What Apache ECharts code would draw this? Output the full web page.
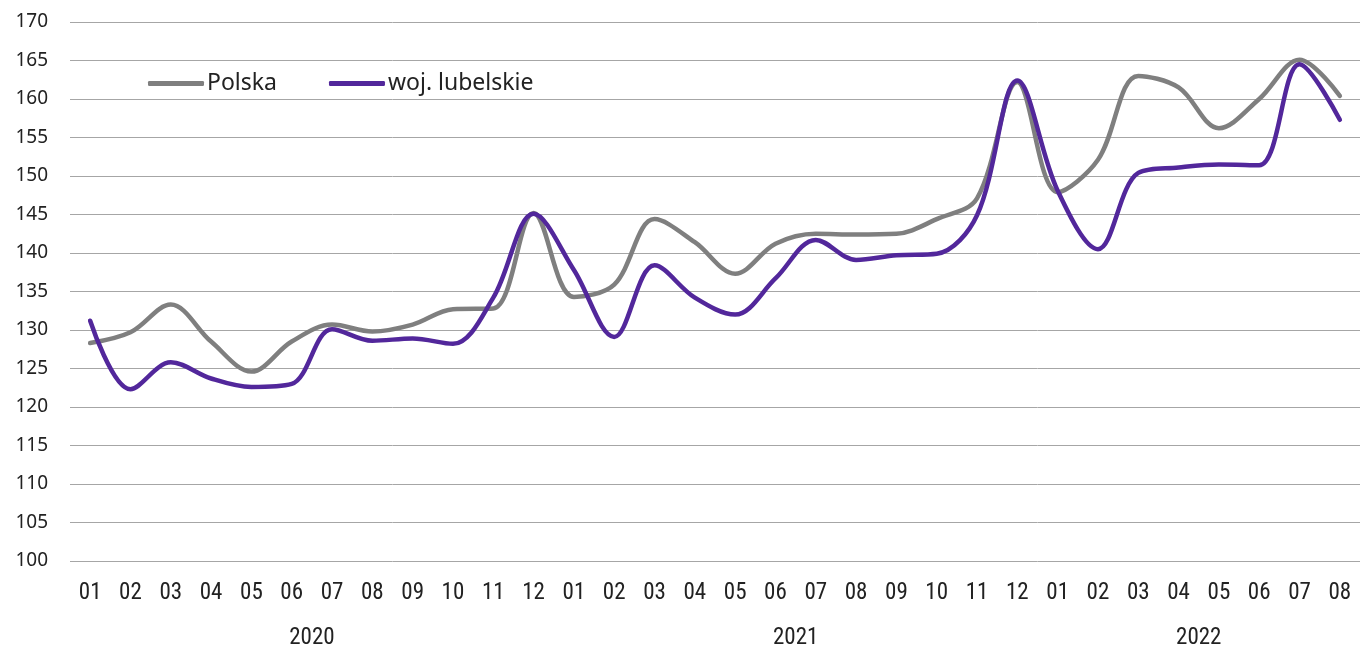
<!doctype html>
<html>
<head>
    <meta charset="utf-8">
    <title>Polska / woj. lubelskie</title>
    <style>
        html, body { margin: 0; padding: 0; background: #fff; }
        #main { width: 1363px; height: 650px; }
    </style>
</head>
<body>
    <div id="main"></div>
<script src="https://cdn.jsdelivr.net/npm/echarts@6/dist/echarts.min.js"></script>
<script type="text/javascript">
    // miesiace 2020-01 .. 2022-08
    var months = ['01','02','03','04','05','06','07','08','09','10','11','12',
                  '01','02','03','04','05','06','07','08','09','10','11','12',
                  '01','02','03','04','05','06','07','08'];
    var years = ['2020', '2021', '2022'];
    var yearPos = [5.5, 17.5, 27.5];

    var polska = [128.3, 129.7, 133.3, 128.5, 124.6, 128.5, 130.7, 129.8, 130.7, 132.7, 132.8, 145.2,
                  134.3, 135.9, 144.4, 141.4, 137.3, 141.2, 142.5, 142.4, 142.5, 144.4, 147.1, 162.2,
                  147.9, 152.1, 163.0, 161.5, 156.2, 160.0, 165.1, 160.4];
    var lubelskie = [131.2, 122.3, 125.8, 123.7, 122.6, 123.0, 130.1, 128.6, 128.9, 128.2, 134.2, 145.1,
                     137.8, 129.1, 138.4, 134.2, 132.0, 136.7, 141.7, 139.1, 139.7, 139.9, 144.9, 162.4,
                     148.1, 140.5, 150.4, 151.1, 151.5, 151.4, 164.5, 157.3];

    var myChart = echarts.init(document.getElementById('main'));
    var option = {
        animation: false,
        legend: {
            left: 143,
            top: 67,
            itemWidth: 56,
            itemHeight: 5,
            itemGap: 52,
            icon: 'roundRect',
            textStyle: { fontFamily: 'Noto Sans', fontSize: 23, color: '#222', padding: [0, 0, 0, -2] },
            data: ['Polska', 'woj. lubelskie']
        },
        grid: { left: 70, right: 3, top: 22, bottom: 89 },
        xAxis: [{
            type: 'category',
            data: months,
            boundaryGap: true,
            axisLine: { show: false },
            axisTick: { show: false },
            axisLabel: {
                interval: 0,
                margin: 21,
                fontFamily: 'Liberation Sans Narrow, Roboto Condensed, Roboto',
                fontSize: 23,
                color: '#222'
            }
        }, {
            type: 'value',
            min: -0.5,
            max: 31.5,
            position: 'bottom',
            axisLine: { show: false },
            axisTick: { show: false },
            splitLine: { show: false },
            axisLabel: {
                customValues: yearPos,
                margin: 66,
                fontFamily: 'Liberation Sans Narrow, Roboto Condensed, Roboto',
                fontSize: 23,
                color: '#222',
                formatter: function (v) {
                    return years[yearPos.indexOf(v)];
                }
            }
        }],
        yAxis: {
            type: 'value',
            min: 100,
            max: 170,
            interval: 5,
            axisLine: { show: false },
            axisTick: { show: false },
            axisLabel: {
                margin: 22,
                fontFamily: 'Noto Sans',
                fontSize: 19,
                color: '#222'
            },
            splitLine: { lineStyle: { color: '#a6a6a6', width: 1 } }
        },
        series: [{
            name: 'Polska',
            type: 'line',
            data: polska,
            smooth: 0.35,
            symbol: 'none',
            itemStyle: { color: '#7f7f7f' },
            lineStyle: { color: '#7f7f7f', width: 4.5, cap: 'round' }
        }, {
            name: 'woj. lubelskie',
            type: 'line',
            data: lubelskie,
            smooth: 0.35,
            symbol: 'none',
            itemStyle: { color: '#52279b' },
            lineStyle: { color: '#52279b', width: 4.5, cap: 'round' }
        }]
    };
    myChart.setOption(option);
</script>
</body>
</html>
